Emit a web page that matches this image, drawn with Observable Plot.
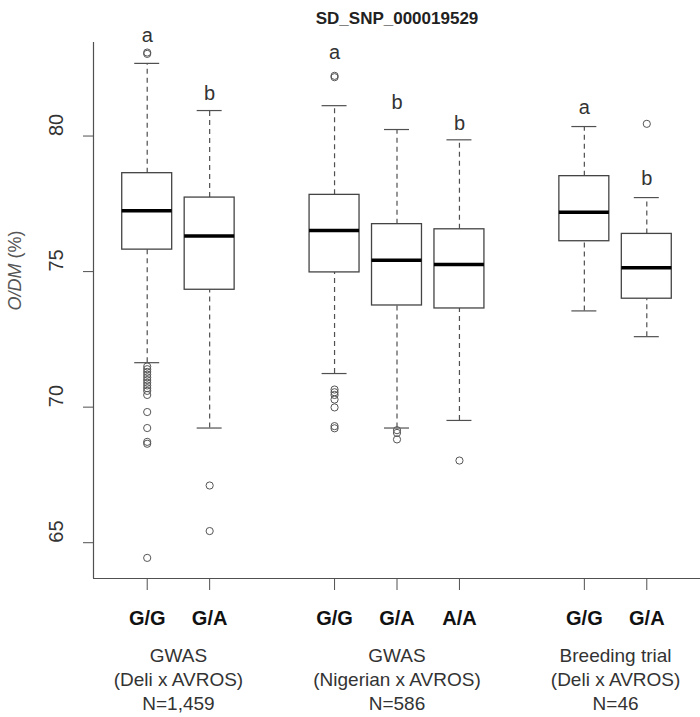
<!DOCTYPE html>
<html><head><meta charset="utf-8">
<script src="https://cdn.jsdelivr.net/npm/d3@7"></script>
<script src="https://cdn.jsdelivr.net/npm/@observablehq/plot@0.6"></script>
<style>body{margin:0;background:#fff}</style>
</head><body><div id="chart"></div>
<script>
const title = "SD_SNP_000019529";
const yLabelItalic = "O/DM";
const yLabelRest = " (%)";
const genotypes = ["G/G", "G/A", "G/G", "G/A", "A/A", "G/G", "G/A"];
const positions = [1, 2, 4, 5, 6, 8, 9];
const lowerWhisker = [71.64, 69.23, 71.24, 69.23, 69.51, 73.55, 72.60];
const q1 = [75.81, 74.33, 74.97, 73.75, 73.64, 76.12, 74.00];
const median = [77.24, 76.31, 76.52, 75.42, 75.26, 77.19, 75.14];
const q3 = [78.63, 77.73, 77.83, 76.75, 76.56, 78.52, 76.39];
const upperWhisker = [82.68, 80.94, 81.12, 80.24, 79.86, 80.35, 77.73];
const letters = ["a", "b", "a", "b", "b", "a", "b"];
const letterY = [83.70, 81.58, 83.09, 81.25, 80.47, 81.06, 78.43];
const outliers = [
  [83.03, 83.08, 71.50, 71.40, 71.30, 71.20, 71.10, 71.00, 70.90, 70.80, 70.70, 70.60, 70.45, 69.82, 69.23, 68.72, 68.65, 64.44],
  [67.11, 65.43],
  [82.17, 82.22, 70.65, 70.55, 70.45, 70.28, 69.99, 69.30, 69.22],
  [69.15, 69.05, 68.81],
  [68.03],
  [],
  [80.45]
];
const groupLabels = ["GWAS\n(Deli x AVROS)\nN=1,459", "GWAS\n(Nigerian x AVROS)\nN=586", "Breeding trial\n(Deli x AVROS)\nN=46"];
const groupPositions = [1.5, 5, 8.5];
const yTicks = [65, 70, 75, 80];
const xDomain = [0.14, 9.86];
const yDomain = [63.68, 83.45];

const boxes = genotypes.map((g, i) => ({
  pos: positions[i], g, lw: lowerWhisker[i], q1: q1[i], med: median[i], q3: q3[i],
  uw: upperWhisker[i], letter: letters[i], ly: letterY[i]
}));
const outlierPts = outliers.flatMap((arr, i) => arr.map(v => ({pos: positions[i], v})));
const groups = groupLabels.map((t, i) => ({t, pos: groupPositions[i]}));
const boxHalf = 0.4, capHalf = 0.2;
const lineCol = "#505050";

const chart = Plot.plot({
  width: 700, height: 717,
  marginTop: 42, marginBottom: 139, marginLeft: 93, marginRight: 0,
  x: {type: "linear", domain: xDomain},
  y: {type: "linear", domain: yDomain},
  style: {fontFamily: "'Liberation Sans', Arial, sans-serif", background: "white", overflow: "visible"},
  marks: [
    Plot.ruleX([xDomain[0]], {stroke: lineCol, strokeWidth: 1.2}),
    Plot.ruleY([yDomain[0]], {stroke: lineCol, strokeWidth: 1.2}),
    Plot.axisY(yTicks, {tickSize: 10, tickFormat: () => "", stroke: lineCol, label: null}),
    Plot.axisX(positions, {tickSize: 12, tickFormat: () => "", stroke: lineCol, label: null}),
    Plot.text(yTicks, {y: d => d, frameAnchor: "left", dx: -37, rotate: -90, fontSize: 20, fill: "#333", text: d => String(d)}),
    Plot.text([yLabelItalic + yLabelRest], {frameAnchor: "left", dx: -78, rotate: -90, fontSize: 18, fill: "#555"}),
    Plot.text([title], {frameAnchor: "top", dy: -31, fontSize: 17, fontWeight: "bold", fill: "#222"}),
    Plot.ruleX(boxes, {x: "pos", y1: "q3", y2: "uw", stroke: lineCol, strokeDasharray: "5,4", strokeWidth: 1.2}),
    Plot.ruleX(boxes, {x: "pos", y1: "lw", y2: "q1", stroke: lineCol, strokeDasharray: "5,4", strokeWidth: 1.2}),
    Plot.ruleY(boxes, {y: "uw", x1: d => d.pos - capHalf, x2: d => d.pos + capHalf, stroke: lineCol, strokeWidth: 1.2}),
    Plot.ruleY(boxes, {y: "lw", x1: d => d.pos - capHalf, x2: d => d.pos + capHalf, stroke: lineCol, strokeWidth: 1.2}),
    Plot.rect(boxes, {x1: d => d.pos - boxHalf, x2: d => d.pos + boxHalf, y1: "q1", y2: "q3", fill: "white", stroke: "#444", strokeWidth: 1.3}),
    Plot.ruleY(boxes, {y: "med", x1: d => d.pos - boxHalf, x2: d => d.pos + boxHalf, stroke: "#000", strokeWidth: 3.5}),
    Plot.dot(outlierPts, {x: "pos", y: "v", r: 3.6, stroke: "#555", fill: "none", strokeWidth: 1}),
    Plot.text(boxes, {x: "pos", y: "ly", text: "letter", fontSize: 20, fill: "#333"}),
    Plot.text(boxes, {x: "pos", text: "g", frameAnchor: "bottom", dy: 46, fontSize: 20, fontWeight: "bold", fill: "#111"}),
    Plot.text(groups, {x: "pos", text: "t", frameAnchor: "bottom", lineAnchor: "top", dy: 67, fontSize: 19, lineHeight: 1.25, fill: "#333"})
  ]
});
document.getElementById("chart").appendChild(chart);
// italicize the O/DM part of the y label
for (const t of chart.querySelectorAll("text")) {
  if (t.textContent === yLabelItalic + yLabelRest) {
    t.textContent = "";
    const a = document.createElementNS("http://www.w3.org/2000/svg", "tspan");
    a.setAttribute("font-style", "italic");
    a.textContent = yLabelItalic;
    const b = document.createElementNS("http://www.w3.org/2000/svg", "tspan");
    b.textContent = yLabelRest;
    t.appendChild(a); t.appendChild(b);
  }
}
</script>
</body></html>
